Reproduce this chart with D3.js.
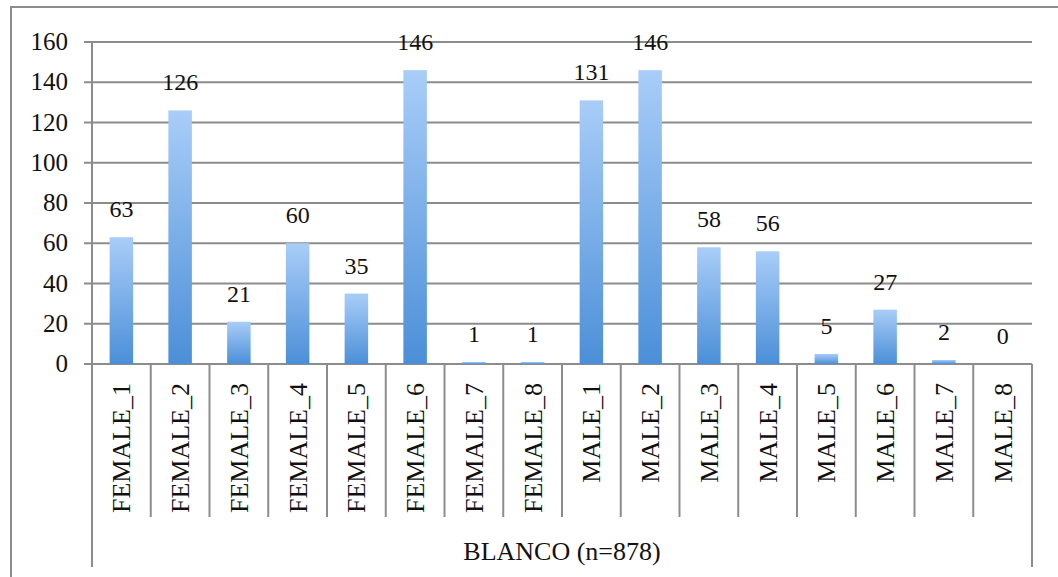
<!DOCTYPE html>
<html><head><meta charset="utf-8">
<script src="https://cdn.jsdelivr.net/npm/d3@7"></script>
</head><body style="margin:0"><svg id="c" width="1058" height="577" style="display:block"></svg>
<script>
const categories = ["FEMALE_1","FEMALE_2","FEMALE_3","FEMALE_4","FEMALE_5","FEMALE_6","FEMALE_7","FEMALE_8","MALE_1","MALE_2","MALE_3","MALE_4","MALE_5","MALE_6","MALE_7","MALE_8"];
const values = [63,126,21,60,35,146,1,1,131,146,58,56,5,27,2,0];
const yTicks = [0,20,40,60,80,100,120,140,160];
const groupLabel = "BLANCO (n=878)";

const FONT = "Liberation Serif";
const svg = d3.select("#c");
const grid = "#8c8c8c";
const ink = "#111111";
const L=92,R=1032,T=42,B=364;
const x = d3.scaleBand().domain(categories).range([L,R]).paddingInner(0.6).paddingOuter(0.3);
const xb = d3.scaleBand().domain(categories).range([L,R]);
const y = d3.scaleLinear().domain([0,160]).range([B,T]);

const defs = svg.append("defs");
const g = defs.append("linearGradient").attr("id","bg").attr("x1",0).attr("y1",0).attr("x2",0).attr("y2",1);
g.append("stop").attr("offset",0).attr("stop-color","#a9cdf8");
g.append("stop").attr("offset",1).attr("stop-color","#4b8fd8");

svg.append("rect").attr("x",11).attr("y",7).attr("width",1100).attr("height",700).attr("fill","none").attr("stroke",grid).attr("stroke-width",2);

svg.append("g").selectAll("line").data(yTicks).join("line")
  .attr("x1",L-8).attr("x2",R).attr("y1",d=>y(d)).attr("y2",d=>y(d))
  .attr("stroke",grid).attr("stroke-width",2);

svg.append("line").attr("x1",L).attr("x2",L).attr("y1",T).attr("y2",567).attr("stroke",grid).attr("stroke-width",2);
svg.append("line").attr("x1",R).attr("x2",R).attr("y1",B).attr("y2",567).attr("stroke",grid).attr("stroke-width",2);
svg.append("g").selectAll("line").data(categories.slice(1)).join("line")
  .attr("x1",d=>xb(d)).attr("x2",d=>xb(d)).attr("y1",B).attr("y2",517)
  .attr("stroke",grid).attr("stroke-width",2);

svg.append("g").selectAll("rect").data(values).join("rect")
  .attr("x",(d,i)=>x(categories[i])).attr("width",x.bandwidth())
  .attr("y",d=>y(d)).attr("height",d=>B-y(d)).attr("fill","url(#bg)");

function txt(sel, size){
  return sel.attr("font-family",FONT).style("font-family",`"${FONT}"`).attr("font-size",size).style("font-size",size+"px").attr("fill",ink);
}

txt(svg.append("g").selectAll("text").data(yTicks).join("text"),25)
  .attr("x",68).attr("y",d=>y(d)+8).attr("text-anchor","end").text(d=>d);

txt(svg.append("g").selectAll("text").data(values).join("text"),24)
  .attr("x",(d,i)=>x(categories[i])+x.bandwidth()/2).attr("y",d=>y(d)-20)
  .attr("text-anchor","middle").text(d=>d);

txt(svg.append("g").selectAll("text").data(categories).join("text"),26)
  .attr("transform",d=>`translate(${xb(d)+xb.bandwidth()/2+9},383) rotate(-90)`)
  .attr("text-anchor","end").text(d=>d);

txt(svg.append("text"),26).attr("x",(L+R)/2).attr("y",560).attr("text-anchor","middle").text(groupLabel);
</script></body></html>
